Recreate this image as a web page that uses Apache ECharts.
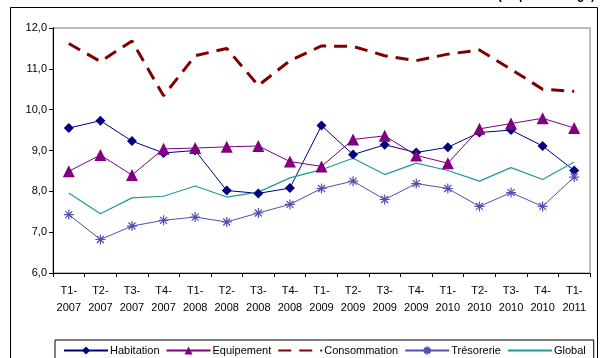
<!DOCTYPE html>
<html><head><meta charset="utf-8">
<script src="https://cdn.jsdelivr.net/npm/echarts@6/dist/echarts.min.js"></script>
<style>html,body{margin:0;padding:0;background:#fff}#c{width:603px;height:358px}</style>
</head><body><div id="c"></div>
<script>
var categories = ['T1-\n2007','T2-\n2007','T3-\n2007','T4-\n2007','T1-\n2008','T2-\n2008','T3-\n2008','T4-\n2008','T1-\n2009','T2-\n2009','T3-\n2009','T4-\n2009','T1-\n2010','T2-\n2010','T3-\n2010','T4-\n2010','T1-\n2011'];
var habitation = [9.55,9.73,9.23,8.94,9.00,8.02,7.95,8.08,9.61,8.90,9.14,8.95,9.08,9.44,9.50,9.11,8.51];
var equipement = [8.49,8.89,8.40,9.04,9.06,9.09,9.11,8.73,8.61,9.27,9.36,8.88,8.69,9.53,9.66,9.79,9.55];
var consommation = [11.62,11.18,11.68,10.34,11.32,11.50,10.59,11.20,11.56,11.55,11.32,11.20,11.36,11.46,10.99,10.50,10.45];
var tresorerie = [7.43,6.82,7.15,7.29,7.37,7.25,7.47,7.68,8.07,8.25,7.80,8.19,8.07,7.63,7.97,7.63,8.35];
var global = [7.96,7.45,7.84,7.88,8.13,7.86,7.98,8.33,8.53,8.81,8.41,8.69,8.51,8.25,8.58,8.29,8.72];
var yTicks = [6,7,8,9,10,11,12];

var chart = echarts.init(document.getElementById('c'), null, {renderer:'canvas'});
var font = '"Liberation Sans", Arial, sans-serif';
var star = 'path://M0,5L10,5M5,0L5,10M1.5,1.5L8.5,8.5M8.5,1.5L1.5,8.5';
chart.setOption({
  animation:false,
  textStyle:{fontFamily:font},
  graphic:[
    {type:'rect', shape:{x:10.5,y:7.5,width:587,height:380}, style:{fill:'none', stroke:'#000', lineWidth:1}, z:-1},
    {type:'text', right:8, top:-10, style:{text:'(en pourcentage)', font:'bold 12px '+font, fill:'#000'}}
  ],
  grid:{left:53, right:13, top:28, bottom:85, show:true, borderColor:'#a6a6a6', borderWidth:1.5, backgroundColor:'#fff'},
  legend:{
    bottom:-12, left:55, right:18,
    padding:[5,8,14,8],
    borderColor:'#000', borderWidth:1,
    itemWidth:44, itemHeight:10, itemGap:6,
    textStyle:{fontSize:11, fontFamily:font, color:'#000', padding:[0,0,0,-3]},
    data:['Habitation','Equipement',
      {name:'Consommation', itemStyle:{opacity:0}},
      'Trésorerie',
      {name:'Global', itemStyle:{opacity:0}}]
  },
  xAxis:{
    type:'category', data:categories, boundaryGap:true,
    axisLine:{lineStyle:{color:'#000', width:1}},
    axisTick:{show:true, length:4, lineStyle:{color:'#000'}},
    axisLabel:{interval:0, fontSize:11, color:'#000', lineHeight:17, margin:9, fontFamily:font},
    splitLine:{show:false}
  },
  yAxis:{
    type:'value', min:6, max:12, interval:1,
    axisLine:{show:true, lineStyle:{color:'#000', width:1}},
    axisTick:{show:true, length:4, lineStyle:{color:'#000'}},
    axisLabel:{fontSize:11, color:'#000', margin:6, fontFamily:font,
      formatter:function(v){return v.toFixed(1).replace('.',',');}},
    splitLine:{show:false}
  },
  series:[
    {name:'Habitation', type:'line', data:habitation, symbol:'diamond', symbolSize:10,
      lineStyle:{color:'#000080', width:1}, itemStyle:{color:'#000080'}},
    {name:'Equipement', type:'line', data:equipement, symbol:'triangle', symbolSize:12,
      lineStyle:{color:'#800080', width:1}, itemStyle:{color:'#800080'}},
    {name:'Consommation', type:'line', data:consommation, symbol:'none', showSymbol:false,
      lineStyle:{color:'#800000', width:3, type:[13,8]}, itemStyle:{color:'#800000'}},
    {name:'Trésorerie', type:'line', data:tresorerie, symbol:star, symbolSize:10,
      lineStyle:{color:'#5050b0', width:1}, itemStyle:{color:'rgba(0,0,0,0)', borderColor:'#5050b0', borderWidth:1.2}},
    {name:'Global', type:'line', data:global, symbol:'none', showSymbol:false,
      lineStyle:{color:'#1f9a9a', width:1.2}, itemStyle:{color:'#1f9a9a'}}
  ]
});
</script></body></html>
